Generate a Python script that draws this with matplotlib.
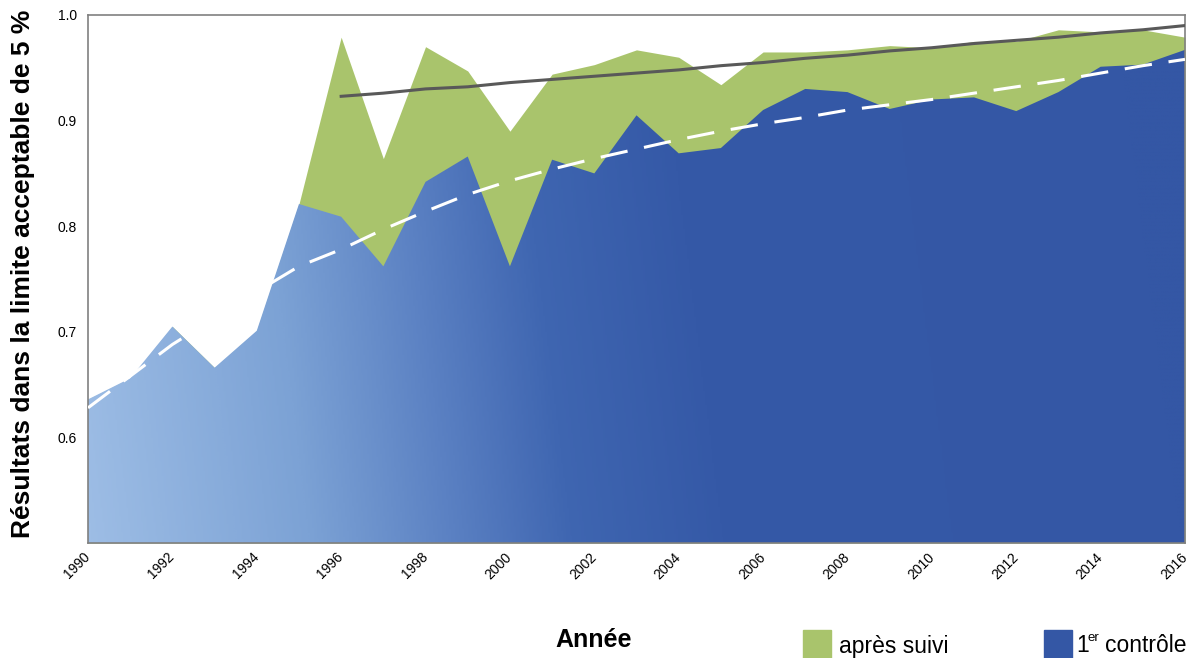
import numpy as np
import matplotlib
matplotlib.use("Agg")
import matplotlib.pyplot as plt
from matplotlib.patches import Rectangle
from matplotlib.colors import LinearSegmentedColormap

plt.rcParams['font.family'] = ['Liberation Sans', 'DejaVu Sans']

# data
years = list(range(1990, 2017))
premier_controle = [0.636, 0.656, 0.705, 0.666, 0.701, 0.821, 0.809, 0.762, 0.842, 0.866,
                    0.762, 0.863, 0.850, 0.905, 0.869, 0.874, 0.910, 0.930, 0.927, 0.911,
                    0.920, 0.922, 0.909, 0.927, 0.951, 0.953, 0.967]
apres_suivi = [0.636, 0.656, 0.705, 0.666, 0.701, 0.821, 0.979, 0.864, 0.970, 0.947,
               0.890, 0.944, 0.953, 0.967, 0.960, 0.934, 0.965, 0.965, 0.967, 0.971,
               0.969, 0.975, 0.975, 0.986, 0.984, 0.986, 0.979]
# tendance 1er contrôle (pointillés blancs)
tendance_controle = [0.628, 0.658, 0.688, 0.713, 0.738, 0.762, 0.778, 0.797, 0.814, 0.830,
                     0.843, 0.854, 0.864, 0.873, 0.882, 0.890, 0.897, 0.903, 0.910, 0.915,
                     0.920, 0.926, 0.932, 0.938, 0.945, 0.952, 0.958]
# tendance après suivi (ligne grise), à partir de 1996
years_suivi = list(range(1996, 2017))
tendance_suivi = [0.923, 0.926, 0.930, 0.932, 0.936, 0.939, 0.942, 0.945, 0.948, 0.952,
                  0.955, 0.959, 0.962, 0.966, 0.969, 0.973, 0.976, 0.979, 0.983, 0.986, 0.990]
y_ticks = [0.6, 0.7, 0.8, 0.9, 1.0]
x_ticks = list(range(1990, 2017, 2))

green = '#a9c46c'
dark_blue = '#3457a5'
blue_cmap = LinearSegmentedColormap.from_list('bleu', [
    (0.0, '#9dbde5'), (0.2, '#7ca2d5'), (0.33, '#5b81c3'),
    (0.44, '#3f66b1'), (0.58, '#3559a7'), (1.0, dark_blue)])

W, H = 1189, 658
fig = plt.figure(figsize=(W / 100, H / 100), dpi=100)
ax = fig.add_axes([88 / W, 1 - 543 / H, (1185 - 88) / W, (543 - 15) / H])

ax.fill_between(years, 0.5, apres_suivi, color=green, lw=0, zorder=1)
blue_fill = ax.fill_between(years, 0.5, premier_controle, color='none', lw=0, zorder=2)

# gradient for the blue area, clipped to it
u = np.linspace(0, 1, 600)[None, :]
v = np.linspace(0, 1, 300)[:, None]
t = np.clip(u + 0.06 * v, 0, 1)
im = ax.imshow(t, cmap=blue_cmap, vmin=0, vmax=1, extent=[1990, 2016, 0.5, 1.0],
               origin='lower', aspect='auto', zorder=2, interpolation='bilinear')
im.set_clip_path(blue_fill.get_paths()[0], transform=ax.transData)

ax.plot(years, tendance_controle, color='white', lw=2.2, ls=(0, (9, 5.5)), zorder=3)
ax.plot(years_suivi, tendance_suivi, color='#595959', lw=2.2, zorder=3)

ax.set_xlim(1990, 2016)
ax.set_ylim(0.5, 1.0)
ax.set_yticks(y_ticks)
ax.set_yticklabels([f'{y:.1f}' for y in y_ticks], fontsize=10)
ax.set_xticks(x_ticks)
ax.set_xticklabels([str(x) for x in x_ticks], fontsize=10, rotation=45, ha='right',
                   va='center', rotation_mode='anchor')
ax.tick_params(length=0)
ax.tick_params(axis='y', pad=8)
ax.tick_params(axis='x', pad=8.5)
for s in ax.spines.values():
    s.set_color('#808080')
    s.set_linewidth(1.2)

fig.text(23 / W, 1 - 274 / H, 'Résultats dans la limite acceptable de 5 %', fontsize=19,
         fontweight='bold', rotation=90, ha='center', va='center')
fig.text(594 / W, 1 - 640 / H, 'Année', fontsize=18, fontweight='bold',
         ha='center', va='center')

# legend
fig.patches.append(Rectangle((803 / W, 0), 28 / W, 28 / H, transform=fig.transFigure,
                             color=green, figure=fig))
fig.text(839 / W, 1 - 646 / H, 'après suivi', fontsize=16.5, va='center')
fig.patches.append(Rectangle((1044 / W, 0), 28 / W, 28 / H, transform=fig.transFigure,
                             color=dark_blue, figure=fig))
fig.text(1076 / W, 1 - 646 / H, '1', fontsize=16.5, va='center')
fig.text(1088 / W, 1 - 638 / H, 'er', fontsize=9.5, va='center')
fig.text(1105 / W, 1 - 646 / H, 'contrôle', fontsize=16.5, va='center')

fig.savefig('out.png', dpi=100)
